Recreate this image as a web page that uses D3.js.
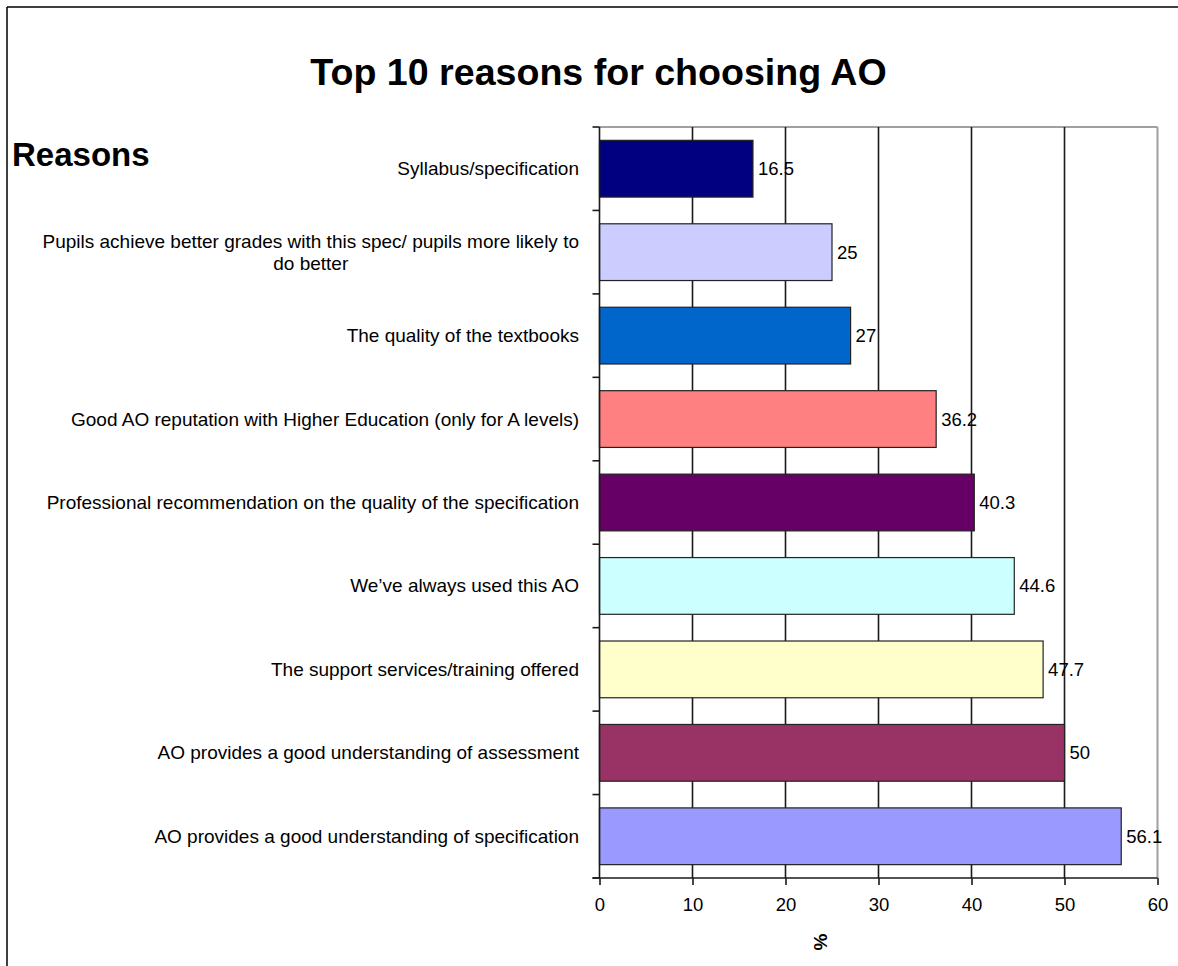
<!DOCTYPE html>
<html>
<head>
<meta charset="utf-8">
<script src="https://cdn.jsdelivr.net/npm/d3@7"></script>
<style>
  html, body { margin: 0; padding: 0; background: #fff; }
  svg { display: block; }
  text { font-family: "Liberation Sans", Arial, sans-serif; fill: #000; }
</style>
</head>
<body>
<svg id="chart" width="1178" height="966"></svg>
<script>
// Survey reasons, top to bottom as listed
const reasons = [
  "Syllabus/specification",
  "Pupils achieve better grades with this spec/ pupils more likely to|do better",
  "The quality of the textbooks",
  "Good AO reputation with Higher Education (only for A levels)",
  "Professional recommendation on the quality of the specification",
  "We\u2019ve always used this AO",
  "The support services/training offered",
  "AO provides a good understanding of assessment",
  "AO provides a good understanding of specification"
];
const percents = [16.5, 25, 27, 36.2, 40.3, 44.6, 47.7, 50, 56.1];
const barColors = ["#000080", "#CCCCFF", "#0066CC", "#FF8080", "#660066",
                   "#CCFFFF", "#FFFFCC", "#993366", "#9999FF"];
const xTicks = [0, 10, 20, 30, 40, 50, 60];

const svg = d3.select("#chart");
const plot = { left: 599.5, right: 1157.5, top: 127, bottom: 878 };

const x = d3.scaleLinear().domain([0, 60]).range([plot.left, plot.right]);
const y = d3.scaleBand().domain(reasons).range([plot.top, plot.bottom])
  .paddingInner(0.32).paddingOuter(0.16);

// outer frame (left and top edges visible)
svg.append("line").attr("x1", 7).attr("x2", 7).attr("y1", 7).attr("y2", 966)
  .attr("stroke", "#000").attr("stroke-width", 1.5);
svg.append("line").attr("x1", 7).attr("x2", 1178).attr("y1", 7).attr("y2", 7)
  .attr("stroke", "#000").attr("stroke-width", 1.5);

// title
svg.append("text").attr("x", 598.5).attr("y", 85).attr("text-anchor", "middle")
  .attr("font-size", 37.6).attr("font-weight", "bold").text("Top 10 reasons for choosing AO");

// axis title for categories
svg.append("text").attr("x", 12).attr("y", 166)
  .attr("font-size", 33).attr("font-weight", "bold").text("Reasons");

// plot frame (top/right grey)
svg.append("line").attr("x1", plot.left).attr("x2", plot.right).attr("y1", plot.top).attr("y2", plot.top)
  .attr("stroke", "#a0a0a0").attr("stroke-width", 2);
svg.append("line").attr("x1", plot.right).attr("x2", plot.right).attr("y1", plot.top).attr("y2", plot.bottom)
  .attr("stroke", "#a0a0a0").attr("stroke-width", 2);

// vertical gridlines
svg.append("g").selectAll("line").data(xTicks.filter(d => d > 0 && d < 60)).join("line")
  .attr("x1", d => x(d)).attr("x2", d => x(d))
  .attr("y1", plot.top).attr("y2", plot.bottom)
  .attr("stroke", "#1a1a1a").attr("stroke-width", 1.6);

// bars
svg.append("g").selectAll("rect").data(reasons).join("rect")
  .attr("x", x(0))
  .attr("y", d => y(d))
  .attr("width", (d, i) => x(percents[i]) - x(0))
  .attr("height", y.bandwidth())
  .attr("fill", (d, i) => barColors[i])
  .attr("stroke", "#222").attr("stroke-width", 1.2);

// value labels
svg.append("g").selectAll("text").data(reasons).join("text")
  .attr("x", (d, i) => x(percents[i]) + 5)
  .attr("y", d => y(d) + y.bandwidth() / 2 + 6.5)
  .attr("font-size", 18.5)
  .text((d, i) => String(percents[i]));

// category axis line and ticks at band boundaries
const step = y.step();
const boundaries = d3.range(reasons.length + 1).map(i => plot.top + i * step);
svg.append("line").attr("x1", plot.left).attr("x2", plot.left).attr("y1", plot.top).attr("y2", plot.bottom)
  .attr("stroke", "#1a1a1a").attr("stroke-width", 1.6);
svg.append("g").selectAll("line").data(boundaries).join("line")
  .attr("x1", plot.left - 7).attr("x2", plot.left)
  .attr("y1", d => d).attr("y2", d => d)
  .attr("stroke", "#1a1a1a").attr("stroke-width", 1.6);

// category labels (right aligned block, extra lines centred under the first)
const labelRight = 579;
const catG = svg.append("g");
reasons.forEach((r, i) => {
  const lines = r.split("|");
  const cy = y(r) + y.bandwidth() / 2;
  const lh = 22;
  const y0 = cy - (lines.length - 1) * lh / 2 + 6.5;
  const first = catG.append("text").attr("x", labelRight).attr("y", y0)
    .attr("text-anchor", "end").attr("font-size", 19).text(lines[0]);
  const w = first.node().getComputedTextLength();
  lines.slice(1).forEach((ln, k) => {
    catG.append("text").attr("x", labelRight - w / 2).attr("y", y0 + (k + 1) * lh)
      .attr("text-anchor", "middle").attr("font-size", 19).text(ln);
  });
});

// value axis
const xAxis = d3.axisBottom(x).tickValues(xTicks).tickSize(7).tickPadding(13).tickFormat(d3.format("d"));
const gx = svg.append("g").attr("transform", `translate(0,${plot.bottom})`).call(xAxis);
gx.select(".domain").remove();
gx.append("line").attr("x1", plot.left - 7).attr("x2", plot.right).attr("y1", 0).attr("y2", 0)
  .attr("stroke", "#1a1a1a").attr("stroke-width", 1.6);
gx.selectAll(".tick line").attr("stroke", "#1a1a1a").attr("stroke-width", 1.6);
gx.selectAll(".tick text").attr("font-size", 18.5)
  .attr("font-family", "\"Liberation Sans\", Arial, sans-serif").attr("fill", "#000");

// value axis title
svg.append("text").attr("transform", "translate(827,942) rotate(-90)")
  .attr("text-anchor", "middle").attr("font-size", 19).attr("font-weight", "bold").text("%");
</script>
</body>
</html>
